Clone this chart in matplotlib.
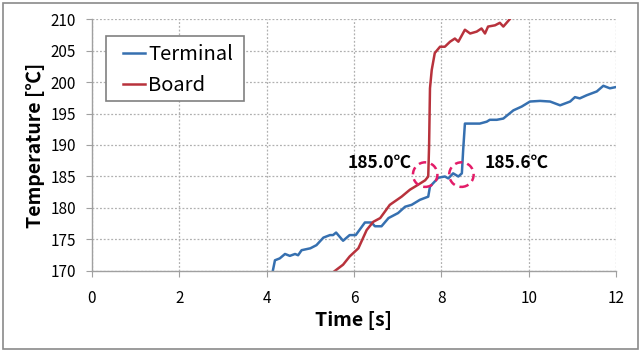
import matplotlib
matplotlib.use("Agg")
import matplotlib.pyplot as plt
from matplotlib.patches import Ellipse, Rectangle


plt.rcParams["font.family"] = ["Noto Sans CJK JP", "DejaVu Sans"]

# values
terminal_t = [4.14, 4.19, 4.30, 4.42, 4.53, 4.65, 4.72, 4.80, 5.00, 5.14, 5.30, 5.45,
              5.52, 5.59, 5.75, 5.90, 6.04, 6.25, 6.40, 6.48, 6.63, 6.79, 7.01, 7.17,
              7.32, 7.51, 7.70, 7.74, 7.93, 8.08, 8.16, 8.27, 8.39, 8.47, 8.50, 8.54,
              8.62, 8.88, 9.04, 9.11, 9.27, 9.42, 9.65, 9.84, 10.03, 10.26, 10.49,
              10.72, 10.95, 11.06, 11.17, 11.33, 11.56, 11.71, 11.86, 12.00]
terminal_temp = [170.0, 171.7, 172.0, 172.7, 172.4, 172.7, 172.5, 173.3, 173.6, 174.1,
                 175.3, 175.7, 175.7, 176.1, 174.8, 175.7, 175.7, 177.7, 177.7, 177.1,
                 177.1, 178.4, 179.2, 180.2, 180.5, 181.3, 181.8, 183.4, 184.8, 185.0,
                 184.7, 185.5, 185.0, 185.5, 189.2, 193.4, 193.4, 193.4, 193.7, 194.0,
                 194.0, 194.2, 195.5, 196.1, 196.9, 197.0, 196.9, 196.3, 196.9, 197.6,
                 197.4, 197.9, 198.5, 199.4, 199.0, 199.2]

board_t = [5.56, 5.75, 5.90, 6.10, 6.29, 6.44, 6.60, 6.82, 7.09, 7.28, 7.47, 7.63, 7.70,
           7.72, 7.74, 7.78, 7.85, 7.97, 8.08, 8.20, 8.31, 8.39, 8.54, 8.66, 8.81, 8.92,
           9.00, 9.07, 9.23, 9.34, 9.42, 9.57]
board_temp = [170.0, 171.0, 172.3, 173.6, 176.5, 177.8, 178.4, 180.5, 181.8, 182.9,
              183.7, 184.4, 185.0, 190.0, 199.0, 201.9, 204.6, 205.6, 205.6, 206.4,
              206.9, 206.4, 208.3, 207.7, 208.0, 208.5, 207.7, 208.8, 209.0, 209.4,
              208.8, 210.0]

x_ticks = [0, 2, 4, 6, 8, 10, 12]
y_ticks = [170, 175, 180, 185, 190, 195, 200, 205, 210]

marks = [(7.63, 185.3, "185.0℃", 6.59), (8.46, 185.3, "185.6℃", 9.73)]

BLUE = "#3670b0"
RED = "#b8323c"
PINK = "#e31c68"


def main():
    fig = plt.figure(figsize=(6.42, 3.56), dpi=100)
    ax = fig.add_axes([0.1433, 0.2388, 0.8162, 0.7078])

    ax.plot(terminal_t, terminal_temp, color=BLUE, lw=1.8, label="Terminal")
    ax.plot(board_t, board_temp, color=RED, lw=1.8, label="Board")

    for cx, cy, text, tx in marks:
        ax.add_patch(Ellipse((cx, cy), 0.56, 3.9, fill=False, ec=PINK, lw=1.8,
                             ls=(0, (3, 2)), zorder=4))
        ax.text(tx, 187.1, text, ha="center", va="center", fontsize=12.5,
                fontweight="bold")

    ax.set_xlim(0, 12)
    ax.set_ylim(170, 210)
    ax.set_xticks(x_ticks)
    ax.set_yticks(y_ticks)
    ax.grid(True, color="#b0b0b0", ls=(0, (1.5, 1.5)), lw=0.9)
    ax.set_axisbelow(True)
    for side in ("top", "right"):
        ax.spines[side].set_visible(False)
    for side in ("left", "bottom"):
        ax.spines[side].set_color("#a0a0a0")
        ax.spines[side].set_linewidth(1.0)
    ax.tick_params(direction="out", length=4.5, color="#a0a0a0", labelsize=11, pad=7)
    ax.tick_params(axis="x", pad=9)

    ax.set_xlabel("Time [s]", fontsize=14, fontweight="bold", labelpad=3)
    ax.set_ylabel("Temperature [℃]", fontsize=14, fontweight="bold", labelpad=4)

    # legend entries without their own frame; the box is drawn separately
    ax.legend(loc="upper left", bbox_to_anchor=(0.059, 0.90), borderaxespad=0,
              fontsize=14.5, handlelength=1.1, handletextpad=0.15,
              labelspacing=0.5, frameon=False, borderpad=0)
    ax.add_patch(Rectangle((0.0267, 0.6746), 0.2634, 0.258, transform=ax.transAxes,
                           fill=True, fc="white", ec="#808080", lw=1.2, zorder=4.5))

    fig.add_artist(Rectangle((0.0039, 0.0197), 0.990, 0.972, transform=fig.transFigure,
                             fill=False, ec="#8a8a8a", lw=1.2))

    fig.savefig("out.png", dpi=100)


if __name__ == "__main__":
    main()
